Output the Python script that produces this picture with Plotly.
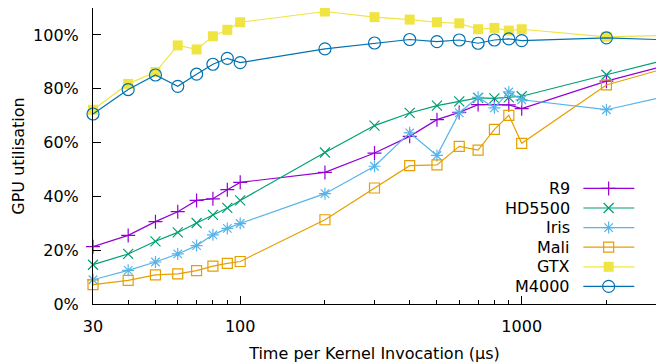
import plotly.graph_objects as go

times = [30, 40, 50, 60, 70, 80, 90, 100, 200, 300, 400, 500, 600, 700, 800, 900, 1000, 2000, 3000]

r9 = [21.3, 25.5, 30.6, 34.3, 38.5, 39.1, 42.5, 45.2, 48.9, 56.1, 62.3, 68.5, 71.2, 74.1, 74.1, 74.0, 72.6, 82.8, 87.7]
hd5500 = [14.6, 18.6, 23.3, 26.6, 30.1, 33.1, 35.7, 38.5, 56.3, 66.3, 71.0, 73.7, 75.3, 76.6, 76.4, 76.8, 77.2, 85.2, 89.8]
iris = [9.0, 12.5, 15.6, 18.6, 21.7, 25.7, 28.1, 29.9, 41.0, 51.2, 63.6, 55.2, 71.0, 76.8, 72.9, 78.8, 75.9, 72.2, 76.3]
mali = [7.2, 8.8, 10.8, 11.2, 12.4, 14.1, 15.1, 15.8, 31.3, 43.1, 51.4, 51.7, 58.6, 57.2, 64.9, 70.1, 59.7, 81.4, 86.6]
gtx = [72.2, 81.8, 86.2, 96.1, 94.6, 99.5, 101.9, 104.7, 108.7, 106.6, 105.7, 104.7, 104.3, 102.1, 102.6, 101.6, 102.1, 99.3, 99.7]
m4000 = [70.6, 79.7, 85.1, 80.9, 85.4, 89.1, 91.3, 89.7, 94.8, 97.0, 98.3, 97.5, 98.1, 96.9, 98.1, 98.5, 97.9, 98.9, 98.3]

names = ["R9", "HD5500", "Iris", "Mali", "GTX", "M4000"]
values = [r9, hd5500, iris, mali, gtx, m4000]
colors = ["#9400d3", "#009e73", "#56b4e9", "#e69f00", "#f0e442", "#0072b2"]
symbols = ["cross-thin-open", "x-thin-open", "asterisk-open", "square-open", "square", "circle-open"]
sizes = [10, 10, 10, 10, 10, 12]

x_ticks = [30, 100, 1000]
x_minor = [40, 50, 60, 70, 80, 90, 200, 300, 400, 500, 600, 700, 800, 900, 2000, 3000]
y_ticks = [0, 20, 40, 60, 80, 100]

FONT = "DejaVu Sans"

fig = go.Figure()

def marker_for(i):
    c = colors[i]
    if symbols[i] == "square":
        return dict(symbol="square", size=sizes[i], color=c, line=dict(width=0))
    return dict(symbol=symbols[i], size=sizes[i], color=c, line=dict(color=c, width=1.2))

for i, (n, v) in enumerate(zip(names, values)):
    fig.add_trace(go.Scatter(
        x=times, y=v, name=n, mode="lines+markers",
        line=dict(color=colors[i], width=1.2),
        marker=marker_for(i), showlegend=False, cliponaxis=False,
    ))

# manual gnuplot-style legend (text left, sample right)
row0 = 0.3905
step = 0.0662
text_x = 0.8503
lx0, lx1, lmid = 0.871, 0.9615, 0.9159
for i, n in enumerate(names):
    yy = row0 - i * step
    fig.add_annotation(x=text_x, y=yy, xref="paper", yref="paper", text=n,
                       showarrow=False, xanchor="right", yanchor="middle",
                       font=dict(family=FONT, size=16, color="black"))
    fig.add_trace(go.Scatter(
        x=[lx0, lx1], y=[yy, yy], xaxis="x2", yaxis="y2", mode="lines",
        line=dict(color=colors[i], width=1.2), showlegend=False, hoverinfo="skip"))
    fig.add_trace(go.Scatter(
        x=[lmid], y=[yy], xaxis="x2", yaxis="y2", mode="markers",
        marker=marker_for(i), showlegend=False, hoverinfo="skip"))

# the page adds an 8px body margin, so the figure is sized/offset to compensate
fig.update_layout(
    width=657, height=356,
    margin=dict(l=85, r=9, t=0, b=60, autoexpand=False),
    paper_bgcolor="white", plot_bgcolor="white",
    font=dict(family=FONT, size=16, color="black"),
    xaxis=dict(
        type="log", range=[1.4771, 3.4771],
        tickmode="array", tickvals=x_ticks, ticktext=[str(t) for t in x_ticks],
        ticks="inside", ticklen=8, tickwidth=1, tickcolor="black",
        minor=dict(tickmode="array", tickvals=x_minor, ticks="inside", ticklen=4, tickwidth=1, tickcolor="black", showgrid=False),
        showline=True, linecolor="black", linewidth=1, mirror=False,
        showgrid=False, zeroline=False, automargin=False,
        ticklabelstandoff=8,
        title=dict(text="Time per Kernel Invocation (µs)", font=dict(size=16), standoff=12),
    ),
    yaxis=dict(
        range=[0, 110],
        tickmode="array", tickvals=y_ticks, ticktext=[f"{t}%" for t in y_ticks],
        ticks="inside", ticklen=8, tickwidth=1, tickcolor="black",
        showline=True, linecolor="black", linewidth=1, mirror=False,
        showgrid=False, zeroline=False, automargin=False,
        ticklabelstandoff=10,
        title=dict(text="GPU utilisation", font=dict(size=16), standoff=4),
    ),
    xaxis2=dict(range=[0, 1], overlaying="x", visible=False, fixedrange=True),
    yaxis2=dict(range=[0, 1], overlaying="y", visible=False, fixedrange=True),
)

fig.write_html("out.html")
